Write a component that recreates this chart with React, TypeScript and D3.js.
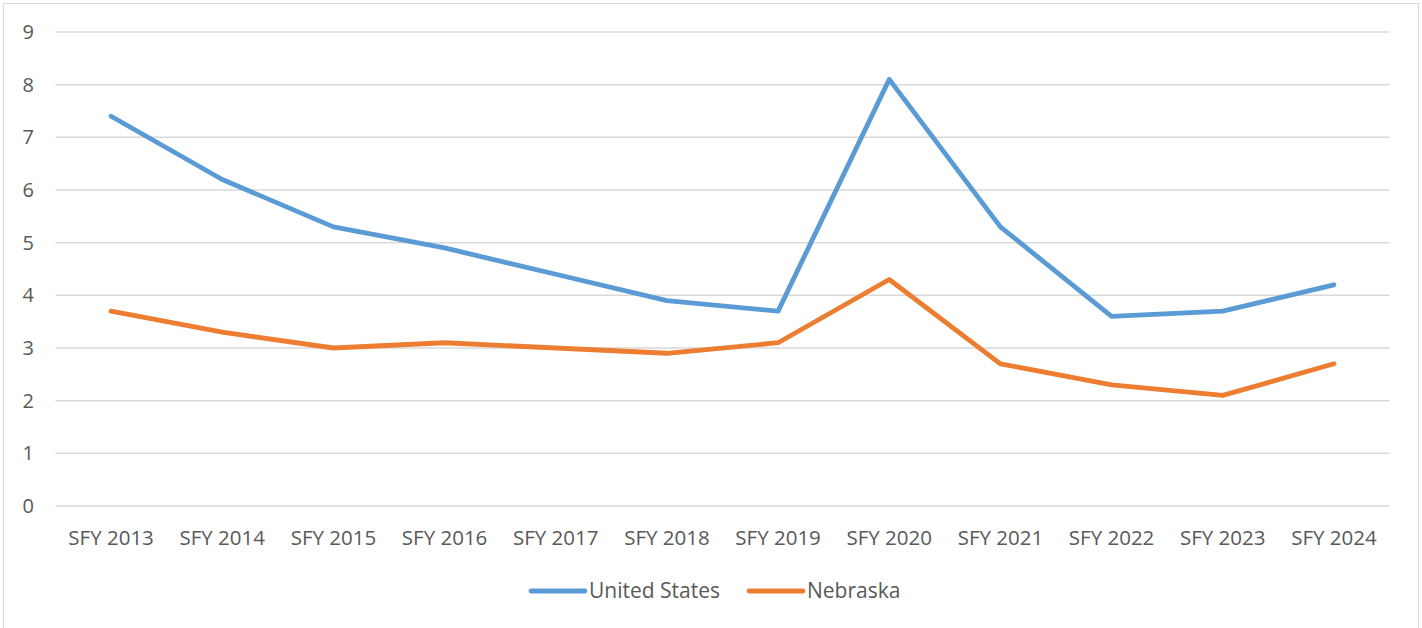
import * as d3 from "d3";
import { useEffect, useRef } from "react";

const years = ["SFY 2013", "SFY 2014", "SFY 2015", "SFY 2016", "SFY 2017", "SFY 2018",
  "SFY 2019", "SFY 2020", "SFY 2021", "SFY 2022", "SFY 2023", "SFY 2024"];
const unitedStates = [7.4, 6.2, 5.3, 4.9, 4.4, 3.9, 3.7, 8.1, 5.3, 3.6, 3.7, 4.2];
const nebraska = [3.7, 3.3, 3.0, 3.1, 3.0, 2.9, 3.1, 4.3, 2.7, 2.3, 2.1, 2.7];
const yTicks = [0, 1, 2, 3, 4, 5, 6, 7, 8, 9];

const seriesList = [
  { name: "United States", values: unitedStates, color: "#5B9BD5" },
  { name: "Nebraska", values: nebraska, color: "#ED7D31" },
];

export default function App() {
  const ref = useRef<SVGSVGElement>(null);

  useEffect(() => {
    const width = 1422;
    const height = 628;
    const font = "'Open Sans', sans-serif";
    const textColor = "#595959";

    const svg = d3.select(ref.current);
    svg.selectAll("*").remove();

    // chart border
    svg.append("rect")
      .attr("x", 3.5).attr("y", 3.5)
      .attr("width", width - 7).attr("height", height + 10)
      .attr("fill", "#fff")
      .attr("stroke", "#D9D9D9");

    const x = d3.scaleBand<string>()
      .domain(years)
      .range([55.5, 1389.5]);

    const y = d3.scaleLinear()
      .domain([0, 9])
      .range([506, 32]);

    // gridlines
    svg.append("g")
      .selectAll("line")
      .data(yTicks)
      .join("line")
      .attr("x1", 55.5).attr("x2", 1389.5)
      .attr("y1", d => y(d)).attr("y2", d => y(d))
      .attr("stroke", "#D9D9D9")
      .attr("stroke-width", 1.5);

    // y labels
    svg.append("g")
      .selectAll("text")
      .data(yTicks)
      .join("text")
      .attr("x", 34)
      .attr("y", d => y(d))
      .attr("dy", "0.35em")
      .attr("text-anchor", "end")
      .attr("font-family", font)
      .attr("font-size", 20)
      .attr("fill", textColor)
      .text(d => d);

    // x labels
    svg.append("g")
      .selectAll("text")
      .data(years)
      .join("text")
      .attr("x", d => x(d)! + x.bandwidth() / 2)
      .attr("y", 545)
      .attr("text-anchor", "middle")
      .attr("font-family", font)
      .attr("font-size", 20.5)
      .attr("fill", textColor)
      .text(d => d);

    const line = d3.line<number>()
      .x((d, i) => x(years[i])! + x.bandwidth() / 2)
      .y(d => y(d));

    svg.append("g")
      .selectAll("path")
      .data(seriesList)
      .join("path")
      .attr("fill", "none")
      .attr("stroke", d => d.color)
      .attr("stroke-width", 4.8)
      .attr("stroke-linejoin", "round")
      .attr("stroke-linecap", "round")
      .attr("d", d => line(d.values));

    // legend
    const legendX = [531, 749];
    const legend = svg.append("g")
      .selectAll("g")
      .data(seriesList)
      .join("g")
      .attr("transform", (d, i) => `translate(${legendX[i]}, 591)`);

    legend.append("line")
      .attr("x1", 0).attr("x2", 54)
      .attr("stroke", d => d.color)
      .attr("stroke-width", 4.8)
      .attr("stroke-linecap", "round");

    legend.append("text")
      .attr("x", 58)
      .attr("dy", "0.35em")
      .attr("font-family", font)
      .attr("font-size", 21)
      .attr("fill", textColor)
      .text(d => d.name);
  }, []);

  return (
    <div style={{ position: "fixed", left: 0, top: 0 }}>
      <svg ref={ref} width={1422} height={628} style={{ display: "block" }} />
    </div>
  );
}
